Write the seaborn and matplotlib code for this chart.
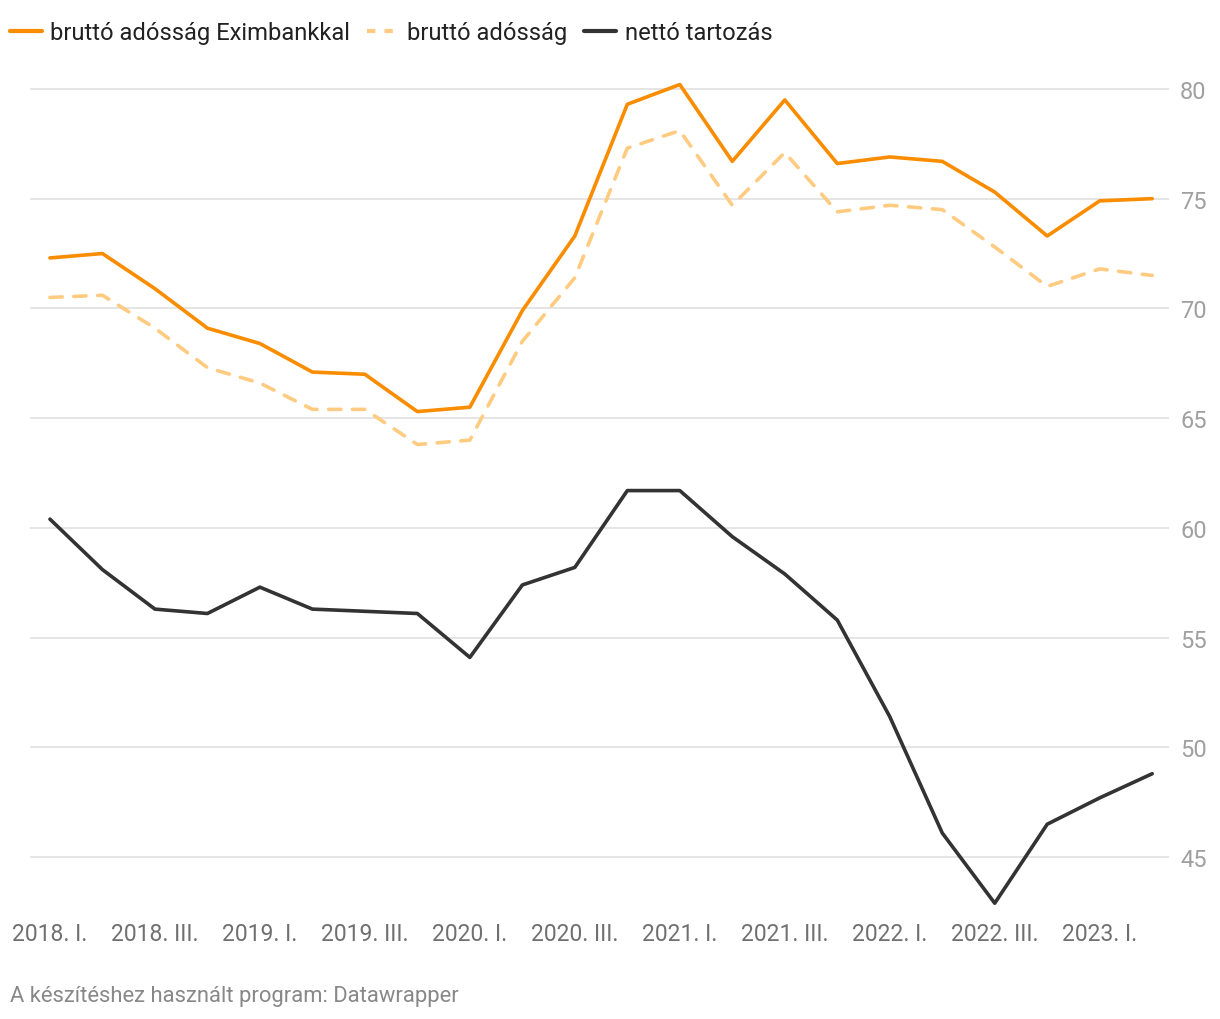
import matplotlib
matplotlib.use("Agg")
import matplotlib.pyplot as plt
import seaborn as sns
import pandas as pd
from matplotlib.lines import Line2D

# Negyedévek
quarters = ["2018. I.", "2018. II.", "2018. III.", "2018. IV.",
            "2019. I.", "2019. II.", "2019. III.", "2019. IV.",
            "2020. I.", "2020. II.", "2020. III.", "2020. IV.",
            "2021. I.", "2021. II.", "2021. III.", "2021. IV.",
            "2022. I.", "2022. II.", "2022. III.", "2022. IV.",
            "2023. I.", "2023. II."]

brutto_exim = [72.3, 72.5, 70.9, 69.1, 68.4, 67.1, 67.0, 65.3, 65.5, 69.9, 73.3,
               79.3, 80.2, 76.7, 79.5, 76.6, 76.9, 76.7, 75.3, 73.3, 74.9, 75.0]
brutto = [70.5, 70.6, 69.1, 67.3, 66.6, 65.4, 65.4, 63.8, 64.0, 68.5, 71.4,
          77.3, 78.1, 74.7, 77.1, 74.4, 74.7, 74.5, 72.8, 71.0, 71.8, 71.5]
netto = [60.4, 58.1, 56.3, 56.1, 57.3, 56.3, 56.2, 56.1, 54.1, 57.4, 58.2,
         61.7, 61.7, 59.6, 57.9, 55.8, 51.4, 46.1, 42.9, 46.5, 47.7, 48.8]

series_names = ["bruttó adósság Eximbankkal", "bruttó adósság", "nettó tartozás"]
colors = ["#fa8c00", "#ffcb80", "#333333"]

y_ticks = [45, 50, 55, 60, 65, 70, 75, 80]

df = pd.DataFrame({"idx": range(len(quarters)),
                   series_names[0]: brutto_exim,
                   series_names[1]: brutto,
                   series_names[2]: netto})

sns.set_theme(style="white")
plt.rcParams['font.family'] = ['Roboto', 'DejaVu Sans']

fig = plt.figure(figsize=(12.2, 10.2), dpi=100)
ax = fig.add_axes([30 / 1220, 1 - 913 / 1020, (1169 - 30) / 1220, (913 - 57) / 1020])

sns.lineplot(data=df, x="idx", y=series_names[0], ax=ax, color=colors[0],
             linewidth=2.6, zorder=3)
sns.lineplot(data=df, x="idx", y=series_names[1], ax=ax, color=colors[1],
             linewidth=2.6, dashes=False, zorder=2)
ax.lines[-1].set_dashes([3.4, 3.2])
ax.lines[-1].set_dash_capstyle("round")
sns.lineplot(data=df, x="idx", y=series_names[2], ax=ax, color=colors[2],
             linewidth=2.6, zorder=3)

ax.set_xlim(-0.38, 21.32)
ax.set_ylim(42.5, 81.5)
ax.set_yticks(y_ticks)
ax.yaxis.tick_right()
ax.tick_params(axis="y", length=0, pad=8, labelsize=17, labelcolor="#a0a0a0")
ax.set_xticks(range(0, len(quarters), 2))
ax.set_xticklabels(quarters[::2])
ax.tick_params(axis="x", length=0, pad=7, labelsize=16.5, labelcolor="#707070")
ax.grid(axis="y", color="#e3e3e3", linewidth=1.3)
ax.set_axisbelow(True)
for s in ax.spines.values():
    s.set_visible(False)
ax.set_xlabel("")
ax.set_ylabel("")

handles = [Line2D([0], [0], color=colors[0], lw=3),
           Line2D([0], [0], color=colors[1], lw=3, dashes=[2, 2.2]),
           Line2D([0], [0], color=colors[2], lw=3)]
fig.legend(handles, series_names, loc="upper left", bbox_to_anchor=(10 / 1220, 1 - 22 / 1020),
           ncol=3, frameon=False, fontsize=17.1, handlelength=1.35,
           handletextpad=0.35, columnspacing=0.7, labelcolor="#222222",
           borderpad=0, borderaxespad=0)

fig.text(10 / 1220, 1 - 997 / 1020, "A készítéshez használt program: Datawrapper",
         fontsize=15.8, color="#888888", va="center", ha="left")

fig.savefig("out.png", dpi=100)
plt.close(fig)
